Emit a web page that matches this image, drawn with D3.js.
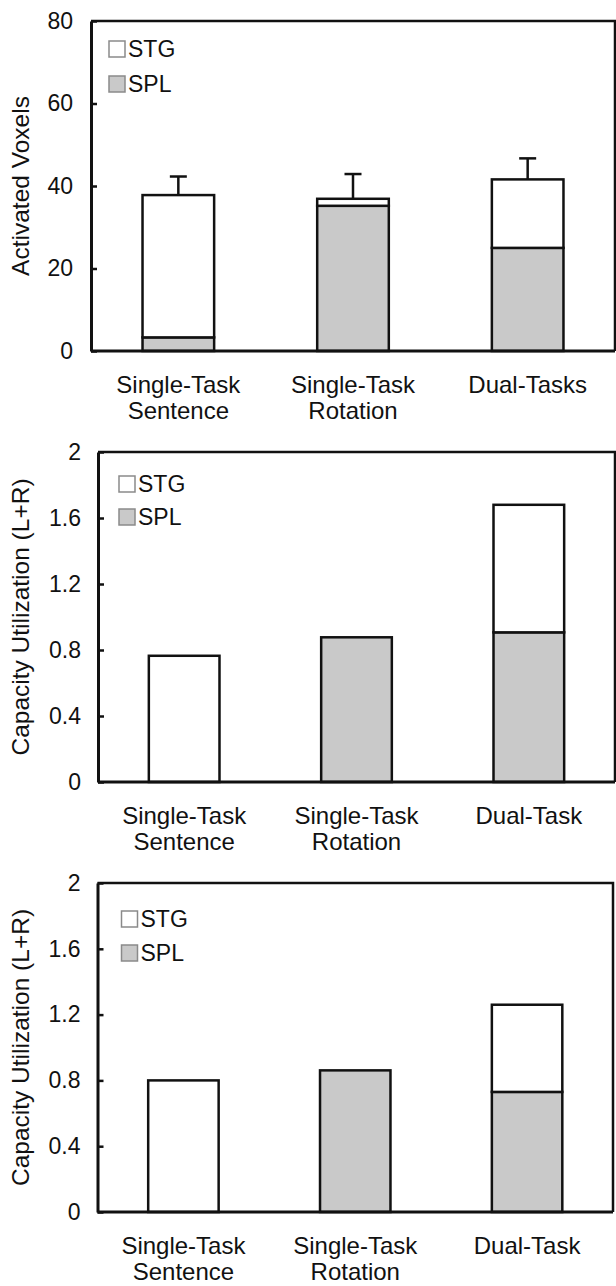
<!DOCTYPE html>
<html>
<head>
<meta charset="utf-8">
<script src="https://cdn.jsdelivr.net/npm/d3@7/dist/d3.min.js"></script>
<style>
  html, body { margin: 0; padding: 0; background: #fff; }
  svg { display: block; }
  text { font-family: "Liberation Sans", Arial, Helvetica, sans-serif; fill: #111; }
</style>
</head>
<body>
<svg id="chart" width="616" height="1286"></svg>
<script>
// ---------- DATA ----------
const seriesNames = ["STG", "SPL"];

const panel1Categories = ["Single-Task|Sentence", "Single-Task|Rotation", "Dual-Tasks"];
const panel1SPL = [3.3, 35.2, 25.0];
const panel1STG = [34.5, 1.7, 16.6];
const panel1Err = [4.5, 6.0, 5.1];
const panel1Ticks = [0, 20, 40, 60, 80];
const panel1TickLabels = ["0", "20", "40", "60", "80"];
const panel1Title = "Activated Voxels";

const panel2Categories = ["Single-Task|Sentence", "Single-Task|Rotation", "Dual-Task"];
const panel2SPL = [0, 0.877, 0.907];
const panel2STG = [0.765, 0, 0.773];
const panel2Title = "Capacity Utilization (L+R)";

const panel3Categories = ["Single-Task|Sentence", "Single-Task|Rotation", "Dual-Task"];
const panel3SPL = [0, 0.861, 0.73];
const panel3STG = [0.80, 0, 0.53];
const panel3Title = "Capacity Utilization (L+R)";

const capTicks = [0, 0.4, 0.8, 1.2, 1.6, 2];
const capTickLabels = ["0", "0.4", "0.8", "1.2", "1.6", "2"];

// ---------- LAYOUT / STYLE ----------
const colors = { STG: "#ffffff", SPL: "#c9c9c9" };
const panels = [
  { cats: panel1Categories, spl: panel1SPL, stg: panel1STG, err: panel1Err,
    ticks: panel1Ticks, labels: panel1TickLabels, title: panel1Title, ymax: 80,
    left: 91, right: 615, top: 21, bottom: 351, legX: 18, legY: 20, legGap: 35, tickPad: 18 },
  { cats: panel2Categories, spl: panel2SPL, stg: panel2STG, err: null,
    ticks: capTicks, labels: capTickLabels, title: panel2Title, ymax: 2,
    left: 98, right: 615, top: 452, bottom: 782, legX: 21, legY: 24, legGap: 33, tickPad: 17 },
  { cats: panel3Categories, spl: panel3SPL, stg: panel3STG, err: null,
    ticks: capTicks, labels: capTickLabels, title: panel3Title, ymax: 2,
    left: 97.5, right: 613, top: 883, bottom: 1212, legX: 24, legY: 28, legGap: 34, tickPad: 17 }
];

const svg = d3.select("#chart");

panels.forEach(p => {
  const g = svg.append("g");
  const table = p.cats.map((c, i) => ({ cat: c, SPL: p.spl[i], STG: p.stg[i] }));
  const x = d3.scaleBand().domain(p.cats).range([p.left, p.right])
    .paddingInner(0.59).paddingOuter(0.295);
  const y = d3.scaleLinear().domain([0, p.ymax]).range([p.bottom, p.top]);

  const stack = d3.stack().keys(["SPL", "STG"])(table);

  // bars
  stack.forEach(layer => {
    g.append("g").selectAll("rect")
      .data(layer.filter(d => d[1] - d[0] > 0))
      .join("rect")
      .attr("x", d => x(d.data.cat))
      .attr("width", x.bandwidth())
      .attr("y", d => y(d[1]))
      .attr("height", d => y(d[0]) - y(d[1]))
      .attr("fill", colors[layer.key])
      .attr("stroke", "#111")
      .attr("stroke-width", 2.5);
  });

  // error bars
  if (p.err) {
    const eg = g.append("g").attr("stroke", "#111").attr("stroke-width", 2.5);
    table.forEach((d, i) => {
      const cx = x(d.cat) + x.bandwidth() / 2;
      const tot = d.SPL + d.STG;
      eg.append("line").attr("x1", cx).attr("x2", cx)
        .attr("y1", y(tot)).attr("y2", y(tot + p.err[i]));
      eg.append("line").attr("x1", cx - 8.5).attr("x2", cx + 8.5)
        .attr("y1", y(tot + p.err[i])).attr("y2", y(tot + p.err[i]));
    });
  }

  // frame top/right
  g.append("path")
    .attr("d", `M${p.left},${p.top}H${p.right}V${p.bottom}`)
    .attr("fill", "none").attr("stroke", "#111").attr("stroke-width", 2.5);

  // y axis
  const ya = g.append("g").attr("transform", `translate(${p.left},0)`)
    .call(d3.axisLeft(y).tickValues(p.ticks)
      .tickFormat((d, i) => p.labels[i])
      .tickSizeInner(-6).tickSizeOuter(0).tickPadding(p.tickPad));
  ya.select(".domain").attr("stroke", "#111").attr("stroke-width", 3);
  ya.selectAll(".tick line").attr("stroke", "#111").attr("stroke-width", 2.5);
  ya.selectAll(".tick text").attr("font-size", 23).attr("font-family", null).attr("fill", "#111");

  // x axis
  const xa = g.append("g").attr("transform", `translate(0,${p.bottom})`)
    .call(d3.axisBottom(x).tickSizeInner(0).tickSizeOuter(0).tickPadding(0));
  xa.select(".domain").attr("stroke", "#111").attr("stroke-width", 3)
    .attr("d", `M${p.left},0H${p.right}`);
  xa.selectAll(".tick text").each(function (d) {
    const t = d3.select(this);
    t.text(null).attr("dy", null).attr("y", 0)
      .attr("font-size", 24).attr("font-family", null).attr("fill", "#111");
    d.split("|").forEach((line, k) => {
      t.append("tspan").attr("x", 0).attr("y", 42 + k * 26).text(line);
    });
  });

  // y title
  g.append("text")
    .attr("transform", `translate(29,${(p.top + p.bottom) / 2}) rotate(-90)`)
    .attr("text-anchor", "middle")
    .attr("font-size", 24.5)
    .text(p.title);

  // legend
  const lg = g.append("g").attr("transform", `translate(${p.left + p.legX},${p.top + p.legY})`);
  seriesNames.forEach((s, i) => {
    lg.append("rect").attr("x", 0).attr("y", i * p.legGap).attr("width", 16).attr("height", 16)
      .attr("fill", colors[s]).attr("stroke", "#8a8a8a").attr("stroke-width", 1.5);
    lg.append("text").attr("x", 19).attr("y", i * p.legGap + 16)
      .attr("font-size", 23).text(s);
  });
});
</script>
</body>
</html>
